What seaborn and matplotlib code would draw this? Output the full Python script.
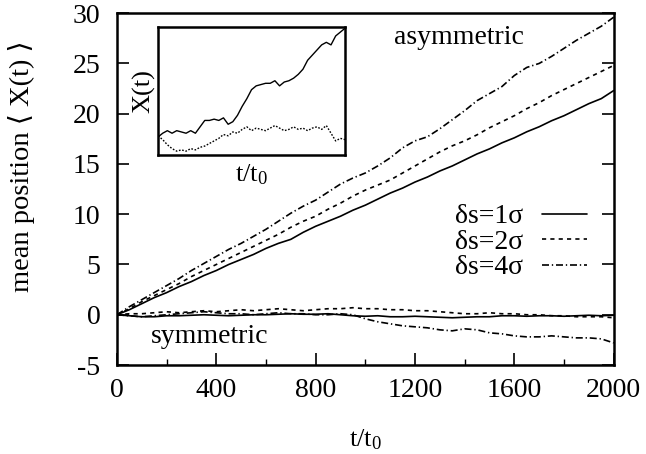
import numpy as np
import pandas as pd
import matplotlib
matplotlib.use("Agg")
import matplotlib.pyplot as plt
import seaborn as sns

# time grid of the averaged trajectories (units of t0)
t = list(range(0, 2001, 50))

# mean position, asymmetric potential
asym_1 = [0.0, 0.5, 1.1, 1.7, 2.2, 2.8, 3.3, 3.9, 4.4, 5.0, 5.5, 6.0, 6.6, 7.1, 7.5, 8.2,
          8.8, 9.3, 9.8, 10.4, 10.9, 11.5, 12.1, 12.6, 13.2, 13.7, 14.3, 14.8, 15.4, 16.0,
          16.5, 17.1, 17.6, 18.2, 18.7, 19.3, 19.8, 20.4, 21.0, 21.5, 22.3]
asym_2 = [0.0, 0.6, 1.3, 1.9, 2.5, 3.1, 3.8, 4.4, 5.0, 5.6, 6.2, 6.8, 7.4, 8.0, 8.7, 9.3,
          9.8, 10.5, 11.1, 11.8, 12.4, 12.9, 13.4, 14.1, 14.8, 15.5, 16.2, 16.8, 17.3, 17.9,
          18.6, 19.2, 19.8, 20.5, 21.1, 21.8, 22.4, 23.0, 23.6, 24.2, 24.8]
asym_4 = [0.0, 0.8, 1.5, 2.2, 2.9, 3.6, 4.4, 5.1, 5.8, 6.5, 7.1, 7.8, 8.5, 9.3, 10.1, 10.8,
          11.4, 12.2, 13.0, 13.6, 14.1, 14.8, 15.6, 16.6, 17.3, 17.7, 18.5, 19.4, 20.3, 21.3,
          22.0, 22.7, 23.8, 24.6, 25.0, 25.7, 26.5, 27.3, 28.0, 28.7, 29.6]

# mean position, symmetric potential
sym_1 = [0.0, -0.1, -0.2, -0.2, -0.1, -0.1, -0.05, 0.0, -0.05, -0.1, -0.05, 0.0, 0.0, 0.05,
         0.1, 0.05, 0.05, 0.1, 0.0, -0.1, -0.15, -0.1, -0.2, -0.2, -0.15, -0.2, -0.25, -0.3,
         -0.25, -0.2, -0.2, -0.1, -0.1, -0.15, -0.1, -0.1, -0.15, -0.1, -0.05, -0.1, -0.05]
sym_2 = [0.0, 0.1, 0.1, 0.2, 0.3, 0.2, 0.3, 0.4, 0.3, 0.4, 0.5, 0.4, 0.5, 0.6, 0.5, 0.4,
         0.5, 0.6, 0.6, 0.7, 0.6, 0.6, 0.5, 0.5, 0.4, 0.4, 0.3, 0.2, 0.1, 0.1, 0.2, 0.1,
         0.1, 0.0, 0.0, -0.1, -0.1, -0.2, -0.2, -0.2, -0.3]
sym_4 = [0.0, -0.1, -0.2, -0.1, 0.0, 0.1, 0.2, 0.3, 0.2, 0.1, 0.1, 0.0, 0.1, 0.2, 0.1, 0.1,
         0.0, 0.0, 0.1, 0.0, -0.4, -0.7, -0.9, -1.1, -1.2, -1.3, -1.5, -1.6, -1.4, -1.5,
         -1.8, -1.9, -2.1, -2.2, -2.2, -2.1, -2.2, -2.3, -2.3, -2.4, -2.8]

labels = ["δs=1σ", "δs=2σ", "δs=4σ"]

# single trajectories shown in the inset (arbitrary units)
inset_t = [i / 40 for i in range(41)]
inset_asym = [0.14, 0.17, 0.19, 0.17, 0.19, 0.18, 0.17, 0.19, 0.17, 0.22, 0.27, 0.27, 0.28,
              0.27, 0.29, 0.24, 0.26, 0.31, 0.38, 0.44, 0.51, 0.54, 0.55, 0.56, 0.56, 0.58,
              0.54, 0.57, 0.58, 0.60, 0.63, 0.67, 0.74, 0.78, 0.82, 0.86, 0.88, 0.86, 0.93,
              0.96, 0.99]
inset_sym = [0.15, 0.12, 0.08, 0.05, 0.03, 0.04, 0.03, 0.05, 0.04, 0.06, 0.07, 0.09, 0.11,
             0.13, 0.16, 0.15, 0.18, 0.17, 0.20, 0.22, 0.19, 0.21, 0.20, 0.19, 0.21, 0.23,
             0.21, 0.19, 0.20, 0.22, 0.20, 0.21, 0.19, 0.21, 0.22, 0.20, 0.23, 0.17, 0.11,
             0.13, 0.12]

sns.set_theme(style="ticks")
plt.rcParams.update({
    "font.family": ["Liberation Serif", "DejaVu Serif"],
    "mathtext.fontset": "custom",
    "mathtext.rm": "Liberation Serif",
    "mathtext.it": "Liberation Serif:italic",
    "axes.unicode_minus": False,
    "axes.edgecolor": "black",
    "axes.linewidth": 1.8,
    "xtick.color": "black",
    "ytick.color": "black",
    "text.color": "black",
    "axes.labelcolor": "black",
})

asym_df = pd.DataFrame({
    "t": t * 3,
    "pos": asym_1 + asym_2 + asym_4,
    "ds": sum([[lab] * len(t) for lab in labels], []),
})
sym_df = pd.DataFrame({
    "t": t * 3,
    "pos": sym_1 + sym_2 + sym_4,
    "ds": sum([[lab] * len(t) for lab in labels], []),
})

dash_styles = {labels[0]: "", labels[1]: (2.5, 2.5), labels[2]: (4.2, 1.7, 0.8, 1.7)}

fig = plt.figure(figsize=(6.46, 4.54), dpi=100)
ax = fig.add_axes([0.181, 0.196, 0.769, 0.775])

sns.lineplot(data=asym_df, x="t", y="pos", style="ds", style_order=labels,
             dashes=dash_styles, color="black", linewidth=1.2, ax=ax)
sns.lineplot(data=sym_df, x="t", y="pos", style="ds", style_order=labels,
             dashes=dash_styles, color="black", linewidth=1.2, ax=ax, legend=False)

ax.set_xlim(0, 2000)
ax.set_ylim(-5, 30)
ax.set_xticks([0, 400, 800, 1200, 1600, 2000])
ax.set_xticks(range(200, 2000, 400), minor=True)
ax.set_yticks(range(-5, 31, 5))
ax.tick_params(axis="both", which="major", direction="in", length=8.5, width=1.2,
               labelsize=20, pad=9)
ax.tick_params(axis="x", which="minor", direction="in", length=4, width=1.0)
ax.tick_params(axis="y", which="both", right=True)
ax.tick_params(axis="y", pad=12)

ax.set_xlabel(r"t/t$_\mathregular{0}$", fontsize=19, labelpad=18)
ax.set_ylabel("mean position ⟨ X(t) ⟩", fontsize=20.5)
ax.yaxis.set_label_coords(-0.165, 0.565)

ax.text(0.688, 0.93, "asymmetric", transform=ax.transAxes, fontsize=20,
        ha="center", va="center")
ax.text(0.187, 0.08, "symmetric", transform=ax.transAxes, fontsize=20,
        ha="center", va="center")

leg = ax.legend(loc="center right", bbox_to_anchor=(0.946, 0.349), frameon=False,
                markerfirst=False, fontsize=20, handlelength=1.6, handletextpad=0.7,
                labelspacing=0.0, borderpad=0, borderaxespad=0)
for line in leg.get_lines():
    line.set_linewidth(1.2)

# inset: single trajectories
ins = fig.add_axes([0.2446, 0.6586, 0.2895, 0.282])
sns.lineplot(x=inset_t, y=inset_asym, color="black", linewidth=1.0, ax=ins)
sns.lineplot(x=inset_t, y=inset_sym, color="black", linewidth=1.0, ax=ins,
             linestyle=(0, (1.2, 1.2)))
ins.set_xlim(0, 1)
ins.set_ylim(0, 1.0)
ins.set_xticks([])
ins.set_yticks([])
for sp in ins.spines.values():
    sp.set_linewidth(1.8)
ins.set_xlabel(r"t/t$_\mathregular{0}$", fontsize=19, labelpad=5)
ins.set_ylabel("X(t)", fontsize=19, labelpad=2)

fig.savefig("out.png", dpi=100)
